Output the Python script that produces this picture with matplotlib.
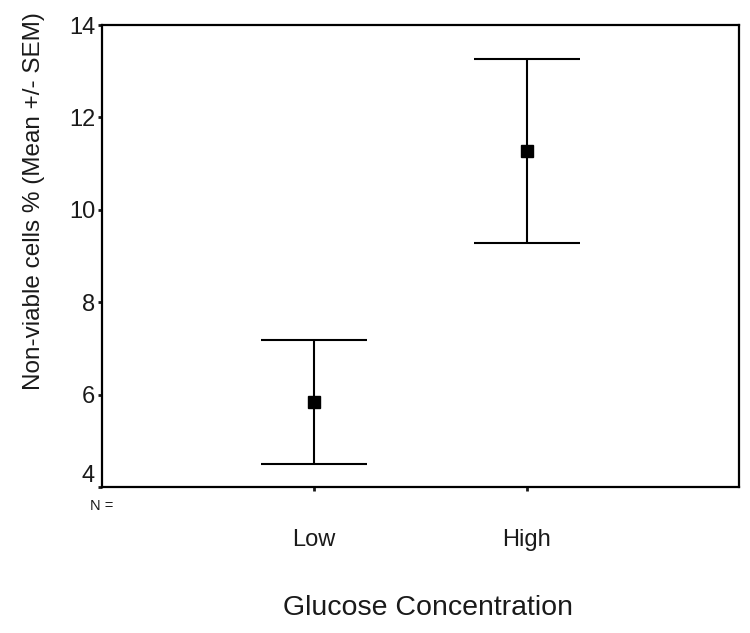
import numpy as np
import matplotlib.pyplot as plt

plt.rcParams['font.family'] = ['Liberation Sans', 'DejaVu Sans']

groups = ['Low', 'High']
means = [5.84, 11.27]
sem = [1.34, 1.99]

txt = '#1a1a1a'
fig = plt.figure(figsize=(7.5, 6.33), dpi=100)
ax = fig.add_axes([0.136, 0.2306, 0.849, 0.7299])

x = np.arange(1, len(groups) + 1)
ax.errorbar(x, means, yerr=sem, fmt='s', color='black', ms=8,
            elinewidth=1.5, capsize=38, capthick=1.5)

ax.set_xlim(0, 3)
ax.set_ylim(4, 14)
ax.set_yticks(np.arange(4, 15, 2))
ax.set_xticks(x)
ax.set_xticklabels(groups)
for s in ax.spines.values():
    s.set_linewidth(1.6)
ax.tick_params(axis='y', length=3, width=2, labelsize=17, colors=txt, pad=2)
ax.tick_params(axis='x', length=3, width=2, labelsize=17, colors=txt, pad=27)
# bottom label sits just above the axis line
ax.yaxis.get_major_ticks()[0].label1.set_va('bottom')
ax.set_ylabel('Non-viable cells % (Mean +/- SEM)', fontsize=17.5, color=txt, labelpad=17)
ax.yaxis.label.set_y(0.62)
ax.set_xlabel('Glucose Concentration', fontsize=20.5, color=txt, labelpad=32)
ax.xaxis.label.set_x(0.512)
ax.text(0.0, -0.042, 'N =', transform=ax.transAxes, ha='center', va='center',
        fontsize=10.5, color=txt)

fig.savefig('out.png', dpi=100)
